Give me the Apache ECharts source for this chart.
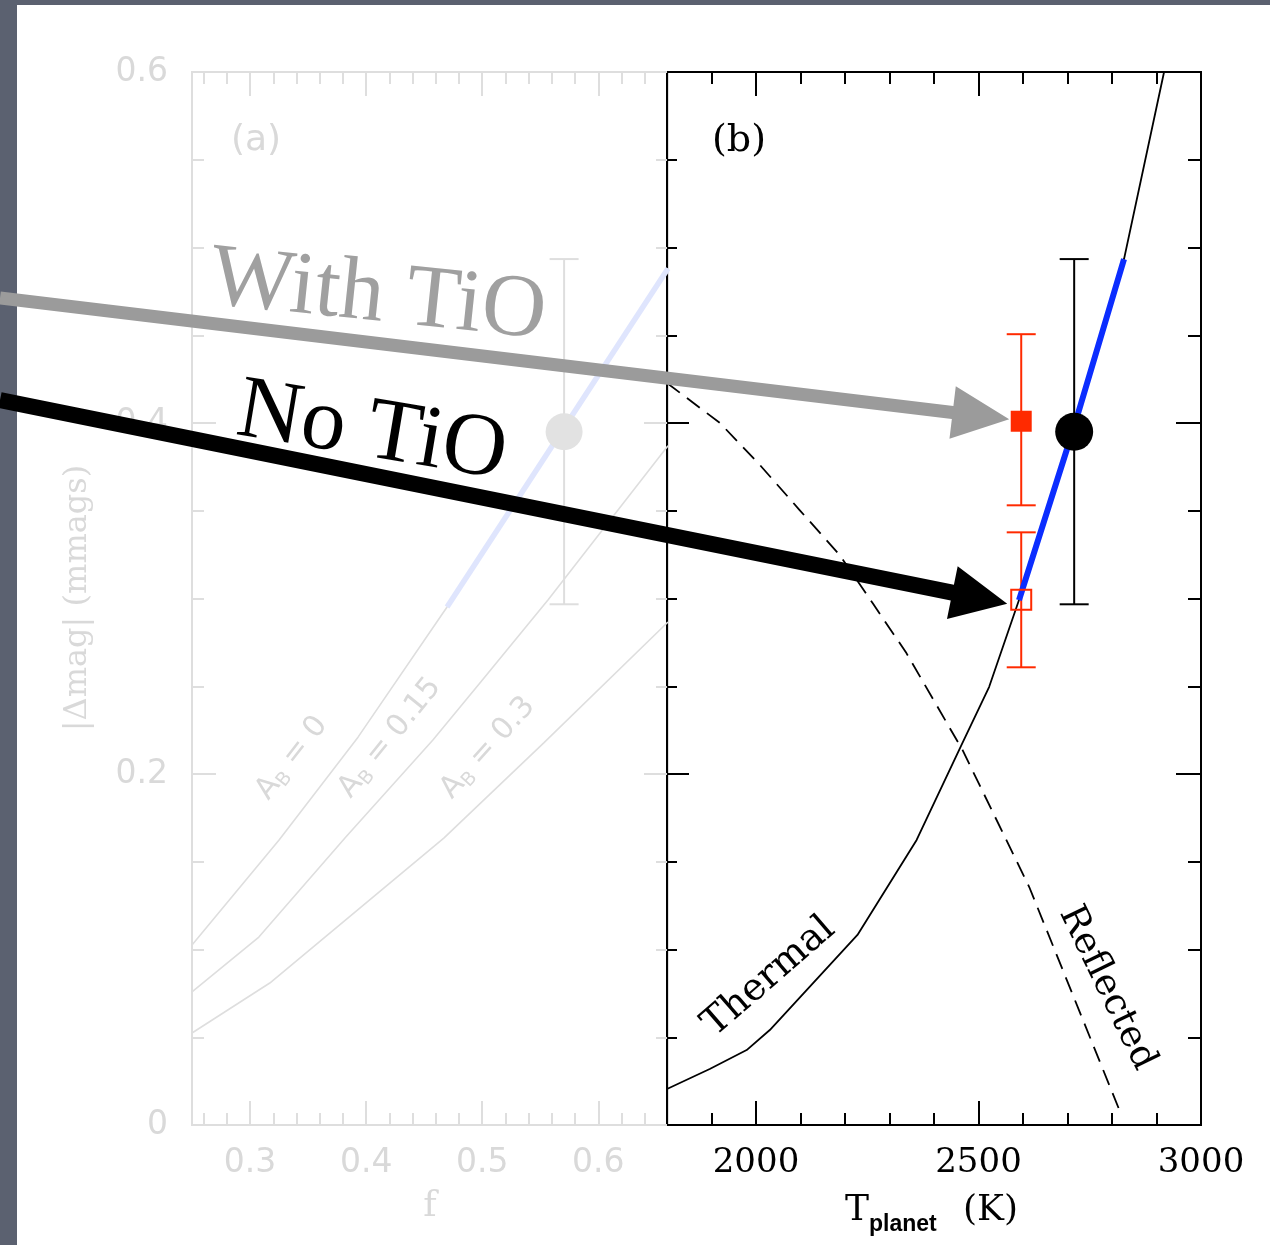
<!DOCTYPE html>
<html>
<head>
<meta charset="utf-8">
<script src="https://cdn.jsdelivr.net/npm/echarts@6/dist/echarts.min.js"></script>
<style>
  html, body { margin: 0; padding: 0; width: 1270px; height: 1245px; overflow: hidden; background: #5b6170; }
  #sheet { position: absolute; left: 17px; top: 5px; width: 1253px; height: 1240px; background: #ffffff; }
  #chart { position: absolute; left: 0; top: 0; width: 1270px; height: 1245px; }
</style>
</head>
<body>
<div id="sheet"></div>
<div id="chart"></div>
<script>
// ---------- Panel (a): amplitude versus redistribution factor f ----------
const fMajorTicks = [0.3, 0.4, 0.5, 0.6];
const fMinorTicks = [0.26, 0.28, 0.32, 0.34, 0.36, 0.38, 0.42, 0.44, 0.46, 0.48,
                     0.52, 0.54, 0.56, 0.58, 0.62, 0.64];
const yTickLabels = ['0', '0.2', '0.4', '0.6'];

// model curves for three Bond albedos
const abZeroF    = [0.25, 0.325, 0.393, 0.4697, 0.66];
const abZeroV    = [0.1026, 0.1624, 0.221, 0.2952, 0.488];
const abFifteenF = [0.25, 0.3076, 0.3825, 0.4575, 0.498, 0.5566, 0.66];
const abFifteenV = [0.0758, 0.1071, 0.1641, 0.2194, 0.2519, 0.2991, 0.387];
const abThirtyF  = [0.25, 0.317, 0.4669, 0.553, 0.66];
const abThirtyV  = [0.0524, 0.0809, 0.1635, 0.2177, 0.2866];
const abZeroHighlightFrom = 3;          // part of the A_B = 0 curve inside the measured range

// measured amplitude placed on panel (a)
const measF = [0.5705];
const measV = [0.395];
const measLo = [0.2967];
const measHi = [0.4934];

// ---------- Panel (b): amplitude versus planet temperature ----------
const tMajorTicks = [2000, 2500, 3000];
const tMinorTicks = [1900, 2100, 2200, 2300, 2400, 2600, 2700, 2800, 2900];

const thermalT = [1800, 1896, 1979, 2031, 2228, 2361, 2464, 2524, 2591, 2715, 2827, 2917];
const thermalV = [0.0205, 0.0319, 0.0427, 0.0541, 0.1083, 0.1624, 0.2177, 0.2497, 0.2991, 0.398, 0.4934, 0.600];
const thermalHighlight = [8, 11];       // slice of the thermal curve inside the measured range

const reflT = [1800, 1919, 2009, 2098, 2188, 2262, 2338, 2464, 2614, 2815];
const reflV = [0.4228, 0.400, 0.376, 0.3504, 0.3248, 0.2974, 0.2689, 0.2137, 0.1356, 0.0095];

// predicted amplitudes with and without TiO
const withTiO = { t: 2596, v: 0.401, lo: 0.3531, hi: 0.4506 };
const noTiO   = { t: 2596, v: 0.2993, lo: 0.2608, hi: 0.3377 };
// measured amplitude
const observed = { t: 2715, v: 0.395, lo: 0.2967, hi: 0.4934 };

// ---------- styling ----------
const FADE = '#dedede';
const FADE_TEXT = '#d9d9d9';
const RED = '#ff2a00';
const BLUE = '#0b2dff';
const SERIF_NAME = 'DejaVu Serif';
const SANS_NAME = 'DejaVu Sans';

const zip = (a, b) => a.map((v, i) => [v, b[i]]);

function xAxisDef(grid, pos, min, max, ticks, len, color, label) {
  return {
    type: 'value', gridIndex: grid, position: pos, min: min, max: max,
    axisLine: { show: true, onZero: false, lineStyle: { color: color, width: 2 } },
    axisTick: { show: true, inside: true, length: len, customValues: ticks, lineStyle: { color: color, width: 2 } },
    axisLabel: label ? Object.assign({ customValues: ticks, showMinLabel: true, showMaxLabel: true }, label) : { show: false },
    splitLine: { show: false }
  };
}
function yAxisDef(grid, pos, len, minorLen, color, label) {
  return {
    type: 'value', gridIndex: grid, position: pos, min: 0, max: 0.6, interval: 0.2,
    axisLine: { show: true, onZero: false, lineStyle: { color: color, width: 2 } },
    axisTick: { show: true, inside: true, length: len, lineStyle: { color: color, width: 2 } },
    minorTick: { show: true, splitNumber: 4, length: minorLen, lineStyle: { color: color, width: 2 } },
    axisLabel: label || { show: false },
    splitLine: { show: false }, minorSplitLine: { show: false }
  };
}

function errorBar(color, capHalf) {
  return function (params, api) {
    const x = api.value(0);
    const pLo = api.coord([x, api.value(1)]);
    const pHi = api.coord([x, api.value(2)]);
    const st = { stroke: color, lineWidth: 2 };
    return {
      type: 'group',
      children: [
        { type: 'line', shape: { x1: pLo[0], y1: pLo[1], x2: pHi[0], y2: pHi[1] }, style: st },
        { type: 'line', shape: { x1: pLo[0] - capHalf, y1: pLo[1], x2: pLo[0] + capHalf, y2: pLo[1] }, style: st },
        { type: 'line', shape: { x1: pHi[0] - capHalf, y1: pHi[1], x2: pHi[0] + capHalf, y2: pHi[1] }, style: st }
      ]
    };
  };
}

const aLabel = { fontFamily: SANS_NAME, fontSize: 33, color: FADE_TEXT };
const bLabel = { fontFamily: SERIF_NAME, fontSize: 34, color: '#000' };

const chart = echarts.init(document.getElementById('chart'), null, { renderer: 'canvas' });

chart.setOption({
  animation: false,
  backgroundColor: 'transparent',
  grid: [
    { left: 192, top: 72, width: 476, height: 1053 },
    { left: 667, top: 72, width: 534, height: 1053 }
  ],
  xAxis: [
    xAxisDef(0, 'bottom', 0.25, 0.66, fMajorTicks, 24, FADE,
      Object.assign({ margin: 22, formatter: v => v.toFixed(1) }, aLabel)),
    xAxisDef(0, 'bottom', 0.25, 0.66, fMinorTicks, 12, FADE),
    xAxisDef(0, 'top', 0.25, 0.66, fMajorTicks, 24, FADE),
    xAxisDef(0, 'top', 0.25, 0.66, fMinorTicks, 12, FADE),
    xAxisDef(1, 'bottom', 1800, 3000, tMajorTicks, 24, '#000',
      Object.assign({ margin: 21, formatter: v => String(v) }, bLabel)),
    xAxisDef(1, 'bottom', 1800, 3000, tMinorTicks, 12, '#000'),
    xAxisDef(1, 'top', 1800, 3000, tMajorTicks, 24, '#000'),
    xAxisDef(1, 'top', 1800, 3000, tMinorTicks, 12, '#000')
  ],
  yAxis: [
    yAxisDef(0, 'left', 24, 12, FADE,
      Object.assign({ margin: 24, formatter: v => yTickLabels[Math.round(v / 0.2)] }, aLabel)),
    yAxisDef(0, 'right', 24, 12, FADE),
    yAxisDef(1, 'left', 22, 10, '#000'),
    yAxisDef(1, 'right', 25, 13, '#000')
  ],
  series: [
    // panel (a)
    { type: 'line', xAxisIndex: 0, yAxisIndex: 0, data: zip(abZeroF, abZeroV), symbol: 'none',
      lineStyle: { color: FADE, width: 1.6 }, silent: true, z: 2 },
    { type: 'line', xAxisIndex: 0, yAxisIndex: 0, data: zip(abFifteenF, abFifteenV), symbol: 'none',
      lineStyle: { color: FADE, width: 1.6 }, silent: true, z: 2 },
    { type: 'line', xAxisIndex: 0, yAxisIndex: 0, data: zip(abThirtyF, abThirtyV), symbol: 'none',
      lineStyle: { color: FADE, width: 1.6 }, silent: true, z: 2 },
    { type: 'line', xAxisIndex: 0, yAxisIndex: 0,
      data: zip(abZeroF, abZeroV).slice(abZeroHighlightFrom), symbol: 'none',
      lineStyle: { color: '#dfe5fd', width: 5.5 }, silent: true, z: 3 },
    { type: 'custom', xAxisIndex: 0, yAxisIndex: 0, renderItem: errorBar(FADE, 14.5),
      data: measF.map((f, i) => [f, measLo[i], measHi[i]]), encode: { x: 0, y: [1, 2] }, silent: true, z: 3 },
    { type: 'scatter', xAxisIndex: 0, yAxisIndex: 0, data: zip(measF, measV), symbol: 'circle',
      symbolSize: 37, itemStyle: { color: '#e2e2e2', opacity: 1 }, silent: true, z: 4 },

    // panel (b)
    { type: 'line', xAxisIndex: 4, yAxisIndex: 2, data: zip(thermalT, thermalV), symbol: 'none',
      lineStyle: { color: '#000', width: 1.8 }, silent: true, z: 2 },
    { type: 'line', xAxisIndex: 4, yAxisIndex: 2,
      data: zip(thermalT, thermalV).slice(thermalHighlight[0], thermalHighlight[1]), symbol: 'none',
      lineStyle: { color: BLUE, width: 6 }, silent: true, z: 4 },
    { type: 'line', xAxisIndex: 4, yAxisIndex: 2, data: zip(reflT, reflV), symbol: 'none',
      lineStyle: { color: '#000', width: 1.8, type: [16, 9] }, silent: true, z: 2 },
    { type: 'custom', xAxisIndex: 4, yAxisIndex: 2, renderItem: errorBar(RED, 14.5),
      data: [[withTiO.t, withTiO.lo, withTiO.hi], [noTiO.t, noTiO.lo, noTiO.hi]],
      encode: { x: 0, y: [1, 2] }, silent: true, z: 3 },
    { type: 'custom', xAxisIndex: 4, yAxisIndex: 2, renderItem: errorBar('#000', 14.5),
      data: [[observed.t, observed.lo, observed.hi]], encode: { x: 0, y: [1, 2] }, silent: true, z: 3 },
    { type: 'scatter', xAxisIndex: 4, yAxisIndex: 2, data: [[withTiO.t, withTiO.v]], symbol: 'rect',
      symbolSize: 21, itemStyle: { color: RED, opacity: 1 }, silent: true, z: 5 },
    { type: 'scatter', xAxisIndex: 4, yAxisIndex: 2, data: [[noTiO.t, noTiO.v]], symbol: 'rect',
      symbolSize: 20, itemStyle: { color: 'rgba(0,0,0,0)', borderColor: RED, borderWidth: 2, opacity: 1 }, silent: true, z: 5 },
    { type: 'scatter', xAxisIndex: 4, yAxisIndex: 2, data: [[observed.t, observed.v]], symbol: 'circle',
      symbolSize: 38, itemStyle: { color: '#000', opacity: 1 }, silent: true, z: 6 }
  ]
});

// ---------- annotations ----------
function arrowShape(tail, tip, shaftW, headW, headL) {
  const dx = tip[0] - tail[0], dy = tip[1] - tail[1], L = Math.hypot(dx, dy);
  const ux = dx / L, uy = dy / L, nx = -uy, ny = ux;
  const bx = tip[0] - ux * headL, by = tip[1] - uy * headL;
  return [
    [tail[0] + nx * shaftW / 2, tail[1] + ny * shaftW / 2],
    [bx + nx * shaftW / 2, by + ny * shaftW / 2],
    [bx + nx * headW / 2, by + ny * headW / 2],
    tip,
    [bx - nx * headW / 2, by - ny * headW / 2],
    [bx - nx * shaftW / 2, by - ny * shaftW / 2],
    [tail[0] - nx * shaftW / 2, tail[1] - ny * shaftW / 2]
  ];
}

function text(str, x, y, deg, size, family, color, extra) {
  return {
    type: 'text', x: x, y: y, rotation: deg * Math.PI / 180, z: 100, silent: true,
    style: Object.assign({
      text: str, fontSize: size, fontFamily: family, fill: color,
      align: 'center', verticalAlign: 'middle', textAlign: 'center', textVerticalAlign: 'middle'
    }, extra || {})
  };
}

function albedoLabel(value, x, y, deg) {
  return {
    type: 'text', x: x, y: y, rotation: deg * Math.PI / 180, z: 100, silent: true,
    style: {
      text: '{a|A}{b|B}{a| = ' + value + '}',
      align: 'center', verticalAlign: 'middle', textAlign: 'center', textVerticalAlign: 'middle',
      rich: {
        a: { fontFamily: SANS_NAME, fontSize: 30, lineHeight: 34, fill: FADE_TEXT, color: FADE_TEXT, verticalAlign: 'middle' },
        b: { fontFamily: SANS_NAME, fontSize: 19, lineHeight: 19, fill: FADE_TEXT, color: FADE_TEXT, verticalAlign: 'bottom' }
      }
    }
  };
}

const redFilledPx = chart.convertToPixel({ seriesIndex: 11 }, [withTiO.t, withTiO.v]);
const redOpenPx = chart.convertToPixel({ seriesIndex: 12 }, [noTiO.t, noTiO.v]);

chart.setOption({
  graphic: [
    // panel tags and axis titles
    text('(a)', 256, 141, 0, 36, SANS_NAME, FADE_TEXT),
    text('(b)', 739, 141, 0, 38, SERIF_NAME, '#000'),
    text('f', 430, 1207, 0, 36, SERIF_NAME, FADE_TEXT),
    text('|\u0394mag| (mmags)', 78, 598, 90, 32, SERIF_NAME, FADE_TEXT),
    text('T', 845, 1211, 0, 36, SERIF_NAME, '#000', { align: 'left', textAlign: 'left' }),
    text('planet', 869, 1225, 0, 23, 'Liberation Sans', '#000',
      { align: 'left', textAlign: 'left', fontWeight: 'bold' }),
    text('(K)', 963, 1211, 0, 36, SERIF_NAME, '#000', { align: 'left', textAlign: 'left' }),

    // curve labels
    albedoLabel('0', 292, 758, 52),
    albedoLabel('0.15', 390, 738, 51),
    albedoLabel('0.3', 488, 748, 48),
    text('Thermal', 769, 977, 41, 38, SERIF_NAME, '#000'),
    text('Reflected', 1107, 988, -64, 37, SERIF_NAME, '#000'),

    // arrows pointing to the two predictions
    { type: 'polygon', z: 90, silent: true,
      shape: { points: arrowShape([0, 298], [redFilledPx[0] - 12, redFilledPx[1] - 2], 13, 53, 57) },
      style: { fill: '#9b9b9b' } },
    { type: 'polygon', z: 90, silent: true,
      shape: { points: arrowShape([0, 400], [redOpenPx[0] - 14, redOpenPx[1] + 4], 16, 54, 56) },
      style: { fill: '#000' } },
    text('With TiO', 378, 297, -6, 89, 'Liberation Serif', '#a0a0a0'),
    text('No TiO', 372, 433, -9.5, 89, 'Liberation Serif', '#000')
  ]
});
</script>
</body>
</html>
